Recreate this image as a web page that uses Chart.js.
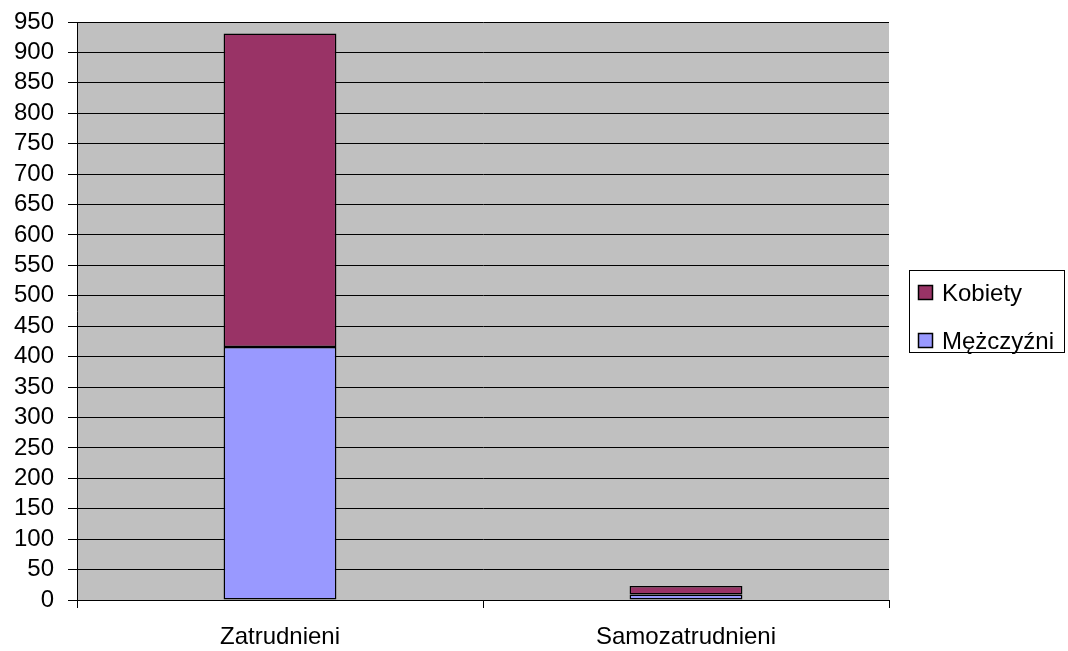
<!DOCTYPE html>
<html>
<head>
<meta charset="utf-8">
<script src="https://cdn.jsdelivr.net/npm/chart.js@4"></script>
<style>
  html, body { margin: 0; padding: 0; background: #fff; }
  #wrap { width: 1068px; height: 651px; }
</style>
</head>
<body>
<div id="wrap"><canvas id="chart" width="1068" height="651"></canvas></div>
<script>
const categories = ['Zatrudnieni', 'Samozatrudnieni'];
const mezczyzni = [416, 9];
const kobiety = [515, 14];
const seriesNames = ['Mężczyźni', 'Kobiety'];
const seriesColors = ['#9999FF', '#993366'];

const FONT = 'Arial, "Liberation Sans", sans-serif';

// grey plot background
const plotBg = {
  id: 'plotBg',
  beforeDraw(chart) {
    const { ctx, chartArea: a } = chart;
    ctx.save();
    ctx.fillStyle = '#C0C0C0';
    ctx.fillRect(a.left, a.top, a.right - a.left, a.bottom - a.top);
    ctx.restore();
  }
};

// boxed legend on the right, Kobiety first
const boxLegend = {
  id: 'boxLegend',
  afterDraw(chart) {
    const ctx = chart.ctx;
    ctx.save();
    ctx.strokeStyle = '#000';
    ctx.lineWidth = 1;
    ctx.strokeRect(909.5, 270.5, 155, 82);
    ctx.font = '24px ' + FONT;
    ctx.textBaseline = 'middle';
    const ds = chart.data.datasets.slice().reverse();
    ds.forEach((d, i) => {
      const y = 285 + i * 48;
      ctx.fillStyle = d.backgroundColor;
      ctx.fillRect(918, y, 14, 14);
      ctx.lineWidth = 1.5;
      ctx.strokeRect(918.5, y + 0.5, 14, 14);
      ctx.fillStyle = '#000';
      ctx.fillText(d.label, 942, y + 9);
    });
    ctx.restore();
  }
};

new Chart(document.getElementById('chart'), {
  type: 'bar',
  data: {
    labels: categories,
    datasets: [
      { label: seriesNames[0], data: mezczyzni, backgroundColor: seriesColors[0] },
      { label: seriesNames[1], data: kobiety, backgroundColor: seriesColors[1] }
    ].map(d => Object.assign(d, {
      borderColor: '#000', borderWidth: 1.5, borderSkipped: false,
      categoryPercentage: 1, barPercentage: 0.278
    }))
  },
  options: {
    responsive: false,
    animation: false,
    layout: { padding: { top: 22, right: 179, left: 0, bottom: 0 } },
    plugins: { legend: { display: false }, tooltip: { enabled: false } },
    scales: {
      x: {
        stacked: true,
        grid: { offset: true, drawOnChartArea: false, drawTicks: true, tickLength: 8, color: '#000' },
        border: { color: '#000', width: 1 },
        ticks: { color: '#000', font: { size: 24, family: FONT }, padding: 15 },
        afterFit(s) { s.height = 51; }
      },
      y: {
        stacked: true,
        min: 0, max: 950,
        grid: { color: '#000', lineWidth: 1, tickLength: 9 },
        border: { color: '#000', width: 1 },
        ticks: { stepSize: 50, autoSkip: false, color: '#000', font: { size: 24, family: FONT, lineHeight: 1 }, padding: 14 },
        afterFit(s) { s.width = 77; s.paddingTop = 0; s.paddingBottom = 0; }
      }
    }
  },
  plugins: [plotBg, boxLegend]
});
</script>
</body>
</html>
